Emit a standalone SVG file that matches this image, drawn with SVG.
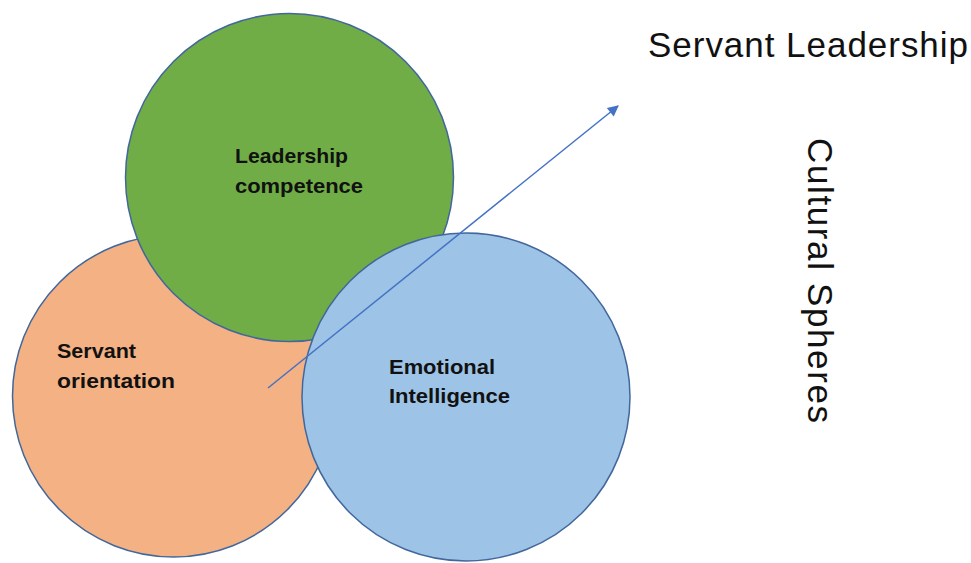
<svg xmlns="http://www.w3.org/2000/svg" width="971" height="563" viewBox="0 0 971 563">
<style>
.c{stroke:#41679C;stroke-width:1.5}
.lbl{font-family:"Liberation Sans",Arial,sans-serif;font-weight:bold;font-size:21px;fill:#111}
.big{font-family:"Liberation Sans",Arial,sans-serif;font-size:35px;fill:#111}
</style>
<defs>
<marker id="ah" viewBox="0 0 10 10" refX="9" refY="5" markerWidth="13" markerHeight="11" orient="auto" markerUnits="userSpaceOnUse">
<path d="M0,0 L10,5 L0,10 z" fill="#4472C4"/>
</marker>
</defs>
<rect width="971" height="563" fill="#fff"/>
<g id="servant-orientation">
<circle class="c" cx="173.5" cy="396" r="161" fill="#F4B183"/>
<text class="lbl" x="57" y="358" textLength="79" lengthAdjust="spacingAndGlyphs">Servant</text>
<text class="lbl" x="57" y="388" textLength="118" lengthAdjust="spacingAndGlyphs">orientation</text>
</g>
<g id="leadership-competence">
<circle class="c" cx="289.5" cy="177.5" r="164" fill="#70AD47"/>
<text class="lbl" x="235" y="163" textLength="113" lengthAdjust="spacingAndGlyphs">Leadership</text>
<text class="lbl" x="235" y="193" textLength="128" lengthAdjust="spacingAndGlyphs">competence</text>
</g>
<g id="emotional-intelligence">
<circle class="c" cx="466" cy="397" r="164" fill="#9DC3E6"/>
<text class="lbl" x="389" y="374" textLength="106" lengthAdjust="spacingAndGlyphs">Emotional</text>
<text class="lbl" x="389" y="403" textLength="121" lengthAdjust="spacingAndGlyphs">Intelligence</text>
</g>
<g id="connectors">
<line x1="268" y1="388" x2="618" y2="106" stroke="#4472C4" stroke-width="1.5" marker-end="url(#ah)"/>
</g>
<g id="servant-leadership">
<text class="big" x="648" y="57" textLength="320">Servant Leadership</text>
</g>
<g id="cultural-spheres">
<text class="big" transform="translate(808,138) rotate(90)" x="0" y="0" textLength="285">Cultural Spheres</text>
</g>
</svg>
